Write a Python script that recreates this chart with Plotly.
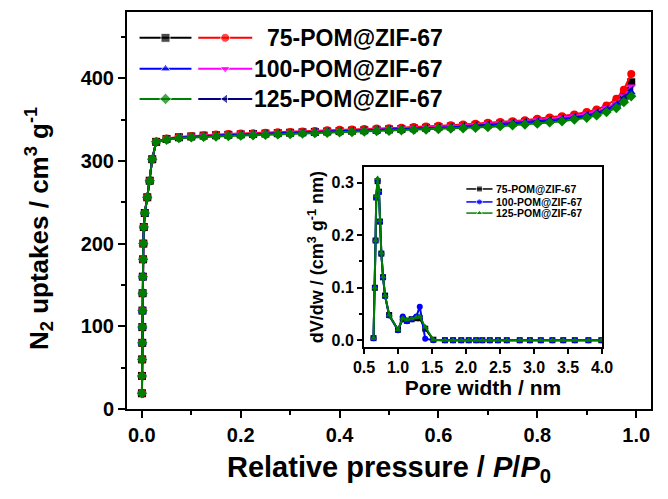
import plotly.graph_objects as go

# ---- N2 adsorption isotherms (77 K) ----
pressure = [0.0002, 0.0004, 0.0006, 0.0008, 0.001, 0.0013, 0.0016, 0.002, 0.0025, 0.003,
            0.004, 0.006, 0.011, 0.016, 0.021, 0.029,
            0.05, 0.075, 0.1, 0.125, 0.15, 0.175, 0.2, 0.225, 0.25, 0.275,
            0.3, 0.325, 0.35, 0.375, 0.4, 0.425, 0.45, 0.475, 0.5, 0.525,
            0.55, 0.575, 0.6, 0.625, 0.65, 0.675, 0.7, 0.725, 0.75, 0.775,
            0.8, 0.825, 0.85, 0.875, 0.9, 0.92, 0.94, 0.96, 0.975, 0.99]

uptake_black = [19, 40, 60, 80, 99, 119, 140, 160, 181, 200,
                220, 237, 256, 276, 302, 323,
                326.5, 328.5, 329.5, 330.5, 331, 331.5, 332, 332.5, 333, 333.5,
                334, 334.5, 335, 335.5, 336, 336.5, 337, 337.5, 338, 338.5,
                339.5, 340, 341, 341.5, 342, 343, 344, 345, 346, 347,
                348.5, 350, 351.5, 353.5, 356, 359, 363, 370, 379, 395]
uptake_red = [19, 40, 60, 80, 99, 119, 140, 160, 181, 200,
              220, 237, 256, 276, 302, 323,
              327, 329, 330, 331, 332, 332.5, 333, 333.5, 334, 334.5,
              335, 335.5, 336, 337, 337.5, 338, 338.5, 339, 339.5, 340,
              341, 341.5, 342.5, 343, 344, 345, 346, 347, 348, 349,
              351, 352.5, 354, 356, 359, 362, 367, 375, 386, 405]
uptake_blue = [19, 40, 60, 80, 99, 119, 140, 160, 181, 200,
               220, 237, 256, 276, 302, 323,
               326, 328, 329, 330, 330.5, 331, 331.5, 332, 332.5, 333,
               333.5, 334, 334.5, 335, 335.5, 336, 336.5, 337, 337.5, 338,
               338.5, 339, 340, 340.5, 341, 342, 343, 344, 345, 346,
               347, 348.5, 350, 352, 354, 357, 361, 367, 374, 383]
uptake_magenta = [19, 40, 60, 80, 99, 119, 140, 160, 181, 200,
                  220, 237, 256, 276, 302, 323,
                  326.5, 328.5, 329.5, 330.5, 331, 331.5, 332, 332.5, 333, 333.5,
                  334, 334.5, 335, 335.5, 336, 336.5, 337, 337.5, 338.5, 339,
                  339.5, 340, 341, 341.5, 342.5, 343.5, 344.5, 345.5, 346.5, 347.5,
                  349, 350.5, 352, 354, 356.5, 359.5, 364, 370, 378, 390]
uptake_navy = [19, 40, 60, 80, 99, 119, 140, 160, 181, 200,
               220, 237, 256, 276, 302, 323,
               326, 328, 329, 330, 330.5, 331, 331.5, 332, 332.5, 333,
               333.5, 334, 334.5, 335, 335.5, 336, 336.5, 337, 337.5, 338,
               338.5, 339, 340, 340.5, 341.5, 342.5, 343.5, 344.5, 345.5, 346.5,
               347.5, 349, 350.5, 352.5, 355, 358, 362, 368, 376, 385]
uptake_green = [19, 40, 60, 80, 99, 119, 140, 160, 181, 200,
                220, 237, 256, 276, 302, 323,
                325.5, 327.5, 328.5, 329, 329.5, 330, 330.5, 331, 331.5, 332,
                332.5, 333, 333.5, 334, 334.5, 335, 335.5, 336, 336.5, 337,
                337.5, 338, 338.5, 339, 339.5, 340, 341, 342, 343, 344,
                345, 346.5, 348, 350, 352, 355, 359, 364, 371, 378]

sample_names = ["75-POM@ZIF-67", "100-POM@ZIF-67", "125-POM@ZIF-67"]

# ---- pore size distribution ----
pore_width = [0.64, 0.66, 0.67, 0.68, 0.70, 0.72, 0.735, 0.755, 0.78, 0.81,
              0.87, 1.0, 1.07, 1.13, 1.2, 1.27, 1.32, 1.4, 1.52, 1.69,
              1.81, 1.93, 2.04, 2.15, 2.24, 2.35, 2.47, 2.6, 2.79, 2.94,
              3.1, 3.27, 3.43, 3.6, 3.8, 3.99]
psd_75 = [0.004, 0.1, 0.19, 0.272, 0.303, 0.283, 0.226, 0.165, 0.12, 0.085,
          0.048, 0.02, 0.04, 0.037, 0.04, 0.042, 0.042, 0.022, 0.001, 0.0,
          0.0, 0.0, 0.0, 0.0, 0.0, 0.0, 0.0, 0.0, 0.0, 0.0,
          0.0, 0.0, 0.0, 0.0, 0.0, 0.0]
psd_100 = [0.004, 0.1, 0.19, 0.272, 0.304, 0.282, 0.226, 0.165, 0.12, 0.084,
           0.047, 0.019, 0.045, 0.036, 0.04, 0.045, 0.064, 0.003, 0.0, 0.0,
           0.0, 0.0, 0.0, 0.0, 0.0, 0.0, 0.0, 0.0, 0.0, 0.0,
           0.0, 0.0, 0.0, 0.0, 0.0, 0.0]
psd_125 = [0.004, 0.1, 0.19, 0.275, 0.308, 0.285, 0.228, 0.166, 0.121, 0.085,
           0.048, 0.02, 0.042, 0.039, 0.041, 0.044, 0.045, 0.025, 0.001, 0.0,
           0.0, 0.0, 0.0, 0.0, 0.0, 0.0, 0.0, 0.0, 0.0, 0.0,
           0.0, 0.0, 0.0, 0.0, 0.0, 0.0]

FONT = "Liberation Sans, Arial, sans-serif"

fig = go.Figure()

iso_series = [
    (uptake_black, "#000000", "square"),
    (uptake_red, "#ff0000", "circle"),
    (uptake_magenta, "#ff00ff", "triangle-down"),
    (uptake_navy, "#000080", "triangle-left"),
    (uptake_blue, "#0000ff", "triangle-up"),
    (uptake_green, "#008000", "diamond"),
]
for vals, col, sym in iso_series:
    fig.add_trace(go.Scatter(
        x=pressure, y=vals, mode="lines+markers",
        line=dict(color=col, width=2),
        marker=dict(symbol=sym, size=8, color=col),
        showlegend=False, xaxis="x", yaxis="y"))

psd_series = [
    (psd_75, "#000000", "square", sample_names[0]),
    (psd_100, "#0000ff", "circle", sample_names[1]),
    (psd_125, "#008000", "triangle-up", sample_names[2]),
]
for vals, col, sym, name in psd_series:
    fig.add_trace(go.Scatter(
        x=pore_width, y=vals, mode="lines+markers",
        line=dict(color=col, width=2),
        marker=dict(symbol=sym, size=6, color=col),
        showlegend=False, xaxis="x2", yaxis="y2"))

# ---- hand-built legends on overlay axes (unit ranges) ----
main_legend_rows = [
    (("#000000", "square"), ("#ff0000", "circle")),
    (("#0000ff", "triangle-up"), ("#ff00ff", "triangle-down")),
    (("#008000", "diamond"), ("#000080", "triangle-left")),
]
row_y = [0.935, 0.857, 0.781]
col_span = [(0.024, 0.123), (0.136, 0.239)]
for (pair, yy, label) in zip(main_legend_rows, row_y, sample_names):
    for (col, sym), (x0, x1) in zip(pair, col_span):
        fig.add_trace(go.Scatter(
            x=[x0, (x0 + x1) / 2, x1], y=[yy, yy, yy], mode="lines+markers",
            line=dict(color=col, width=2),
            marker=dict(symbol=sym, size=[0, 9, 0], color=col),
            showlegend=False, xaxis="x3", yaxis="y3", hoverinfo="skip"))
    fig.add_annotation(x=0.606, y=yy, xref="x3", yref="y3", text=label,
                       showarrow=False, xanchor="right", yanchor="middle",
                       font=dict(family=FONT, size=23, color="black", weight="bold"))

inset_rows_y = [0.878, 0.806, 0.744]
for (vals, col, sym, name), yy in zip(psd_series, inset_rows_y):
    fig.add_trace(go.Scatter(
        x=[0.43, 0.485, 0.54], y=[yy, yy, yy], mode="lines+markers",
        line=dict(color=col, width=1.5),
        marker=dict(symbol=sym, size=[0, 6, 0], color=col),
        showlegend=False, xaxis="x4", yaxis="y4", hoverinfo="skip"))
    fig.add_annotation(x=0.545, y=yy, xref="x4", yref="y4", text=name,
                       showarrow=False, xanchor="left", yanchor="middle",
                       font=dict(family=FONT, size=10.5, color="black", weight="bold"))

# main y-axis title, placed as a rotated annotation
fig.add_annotation(x=-0.168, y=0.456, xref="paper", yref="paper", textangle=-90,
                   text="N<sub>2</sub> uptakes / cm<sup>3</sup> g<sup>-1</sup>",
                   showarrow=False, xanchor="center", yanchor="middle",
                   font=dict(family=FONT, size=26, color="black", weight="bold"))

axis_common = dict(showline=True, linecolor="black", linewidth=2, mirror=True,
                   ticks="outside", tickcolor="black", tickwidth=2,
                   showgrid=False, zeroline=False)

INSET_X = [0.4523, 0.9065]
INSET_Y = [0.156, 0.6096]

fig.update_layout(
    width=668, height=499,
    margin=dict(l=127, r=6, t=12, b=90),
    paper_bgcolor="white", plot_bgcolor="white",
    font=dict(family=FONT, color="black"),
    xaxis=dict(**axis_common, range=[-0.03, 1.03], tickvals=[0, 0.2, 0.4, 0.6, 0.8, 1.0],
               ticktext=["0.0", "0.2", "0.4", "0.6", "0.8", "1.0"], ticklen=7,
               minor=dict(dtick=0.1, tick0=0, ticks="outside", ticklen=4, tickcolor="black", tickwidth=2),
               tickfont=dict(size=20, weight="bold"),
               title=dict(text="Relative pressure / <i>P</i>/<i>P</i><sub>0</sub>",
                          font=dict(size=29, weight="bold"), standoff=12)),
    yaxis=dict(**axis_common, range=[0, 480], tickvals=[0, 100, 200, 300, 400], ticklen=7,
               minor=dict(dtick=50, tick0=0, ticks="outside", ticklen=4, tickcolor="black", tickwidth=2),
               tickfont=dict(size=20, weight="bold")),
    xaxis2=dict(**axis_common, anchor="y2", domain=INSET_X, range=[0.5, 4.0],
                tickvals=[0.5, 1.0, 1.5, 2.0, 2.5, 3.0, 3.5, 4.0],
                ticktext=["0.5", "1.0", "1.5", "2.0", "2.5", "3.0", "3.5", "4.0"], ticklen=5,
                tickfont=dict(size=16, weight="bold"),
                title=dict(text="Pore width / nm", font=dict(size=21, weight="bold"), standoff=2)),
    yaxis2=dict(**axis_common, anchor="x2", domain=INSET_Y, range=[-0.013, 0.33],
                tickvals=[0.0, 0.1, 0.2, 0.3], ticktext=["0.0", "0.1", "0.2", "0.3"], ticklen=5,
                minor=dict(dtick=0.05, tick0=0, ticks="outside", ticklen=3, tickcolor="black", tickwidth=1.5),
                tickfont=dict(size=16, weight="bold"),
                title=dict(text="dV/dw / (cm<sup>3</sup> g<sup>-1</sup> nm)",
                           font=dict(size=18, weight="bold"), standoff=3)),
    xaxis3=dict(overlaying="x", range=[0, 1], visible=False, anchor="y3", fixedrange=True),
    yaxis3=dict(overlaying="y", range=[0, 1], visible=False, anchor="x3", fixedrange=True),
    xaxis4=dict(overlaying="x2", range=[0, 1], visible=False, anchor="y4", fixedrange=True),
    yaxis4=dict(overlaying="y2", range=[0, 1], visible=False, anchor="x4", fixedrange=True),
)
fig.write_html("out.html")
